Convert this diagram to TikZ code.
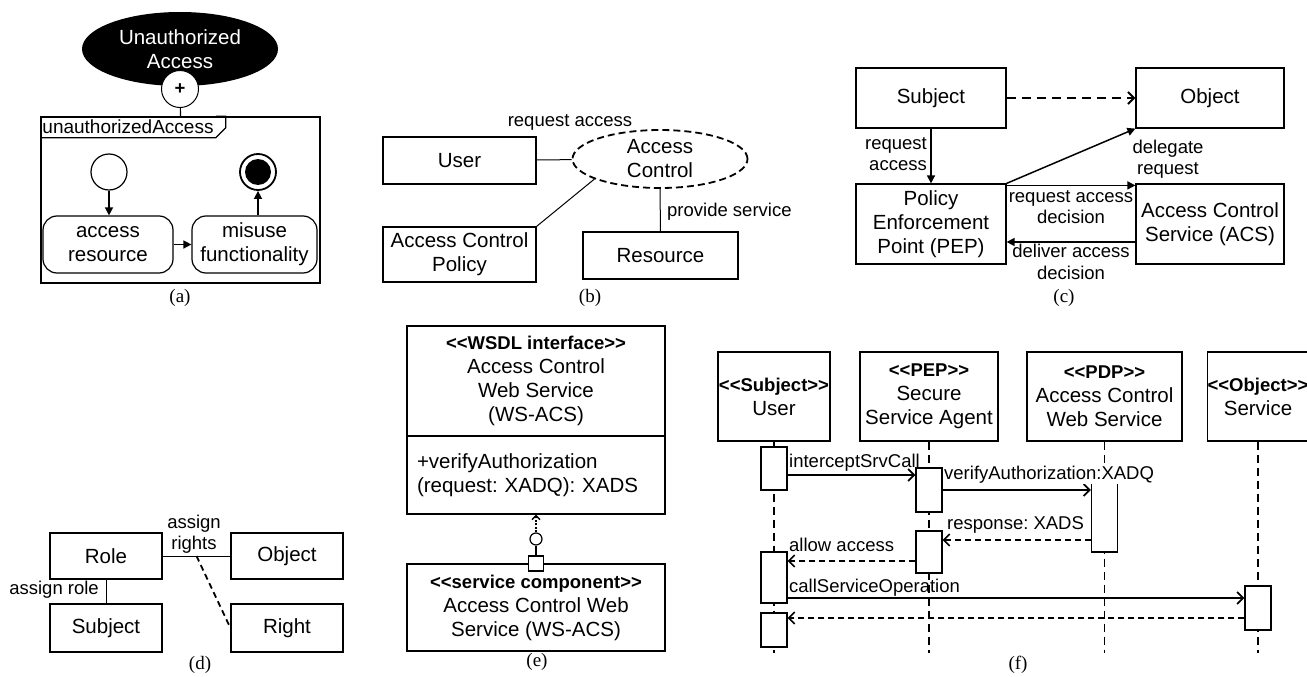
\documentclass[tikz,border=0pt]{standalone}
\usepackage{fontspec}
\setmainfont{Liberation Sans}
\newfontfamily\capfont{Liberation Serif}
\usetikzlibrary{shapes.geometric,arrows.meta}
\newcommand\bigtxt{\fontsize{20.5}{24}\selectfont}
\newcommand\smalltxt{\fontsize{18.5}{21.5}\selectfont}
\newcommand\stereo[1]{{\smalltxt\bfseries <\kern0pt<#1>\kern0pt>}}
\frenchspacing

\begin{document}
\begin{tikzpicture}[x=1pt, y=-1pt, font=\bigtxt,
    box/.style={draw, line width=1.2pt, align=center, inner sep=0pt},
    act/.style={draw, line width=1.2pt, fill=white, minimum width=26pt, inner sep=0pt},
    lbl/.style={font=\smalltxt, align=center, inner sep=0pt},
    subcap/.style={font=\capfont\fontsize{19}{22}\selectfont, inner sep=0pt},
    tri/.style={-{Triangle[length=8pt,width=8pt]}, line width=1.5pt},
    barb/.style={-{Straight Barb[length=6pt,width=12pt]}, line width=1.8pt},
    life/.style={line width=1.8pt, dash pattern=on 8pt off 5pt},
    ret/.style={barb, line width=1.6pt, dash pattern=on 6pt off 4pt}]
    \useasboundingbox (0,0) rectangle (1307,677);

    \node[ellipse, fill=black, text=white, align=center, minimum width=196pt, minimum height=74pt, inner sep=0pt] (goal) at (180,49) {Unauthorized\\Access};
    \node[circle, draw, fill=white, line width=1pt, minimum size=37pt, inner sep=0pt, font=\smalltxt\bfseries] (plus) at (180,89) {+};
    \node[draw, line width=1.5pt, minimum width=279pt, minimum height=166pt] (frame) at (180.5,200) {};
    \draw[line width=1.2pt] (plus) -- (frame.north);
    \node[anchor=north west, inner xsep=2pt, inner ysep=0pt, minimum height=21pt, font=\fontsize{19}{22}\selectfont] (flabel) at (frame.north west) {unauthorizedAccess};
    \draw[line width=1.2pt] (flabel.south west) -- (flabel.south east) -- ++(10,-10) |- (flabel.north east);
    \node[circle, draw, line width=1.2pt, minimum size=36pt] (init) at (109,172) {};
    \node[circle, draw, line width=1.8pt, minimum size=36pt] (final) at (258,172) {};
    \node[circle, fill=black, minimum size=26pt, inner sep=0pt] (finaldot) at (final) {};
    \node[box, rounded corners=14pt, minimum width=130pt, minimum height=57pt] (accres) at (108,244.5) {access\\resource};
    \node[box, rounded corners=14pt, minimum width=125pt, minimum height=57pt] (misuse) at (254.5,244.5) {misuse\\functionality};
    \draw[tri] (init) -- (init |- accres.north);
    \draw[tri] (accres) -- (misuse);
    \draw[tri] (misuse.north -| final) -- (final);
    \node[subcap] (capa) at (180,298) {(a)};

    \node[box, minimum width=153pt, minimum height=47pt] (user) at (459.5,160.5) {User};
    \node[ellipse, draw, line width=1.8pt, dash pattern=on 7pt off 4pt, align=center, minimum width=175pt, minimum height=58pt, inner sep=0pt] (ac) at (660,159) {Access\\Control};
    \node[box, minimum width=153pt, minimum height=55pt] (acp) at (459.5,254.5) {Access Control\\Policy};
    \node[box, minimum width=155pt, minimum height=47pt] (res) at (660.5,255.5) {Resource};
    \draw[line width=1pt] (user) -- (ac);
    \draw[line width=1pt] (acp.north east) -- (ac.197);
    \draw[line width=1pt] (ac.south) -- (res.north);
    \node[lbl] (lreqacc) at (570,122) {request access};
    \node[lbl, anchor=west] (lprov) at (667,212) {provide service};
    \node[subcap] (capb) at (590,298) {(b)};

    \node[box, minimum width=150pt, minimum height=60pt] (csubj) at (931,98) {Subject};
    \node[box, minimum width=148pt, minimum height=60pt] (cobj) at (1210,98) {Object};
    \node[box, minimum width=150pt, minimum height=80pt] (pep) at (931,224) {Policy\\Enforcement\\Point (PEP)};
    \node[box, minimum width=148pt, minimum height=80pt] (acs) at (1210,224) {Access Control\\Service (ACS)};
    \draw[tri] (csubj) -- (pep);
    \draw[barb, line width=2pt, dash pattern=on 9pt off 6pt] (csubj) -- (cobj);
    \draw[tri] (pep.north east) -- (cobj.south west);
    \draw[tri] ([yshift=-2pt]pep.north east) -- ([yshift=-2pt]acs.north west);
    \draw[tri] ([yshift=-18pt]acs.west) -- ([yshift=-18pt]pep.east);
    \node[lbl, anchor=east, align=right] (lreq) at (927,154) {request\\access};
    \node[lbl] (ldel) at (1168,159) {delegate\\request};
    \node[lbl] (lreqdec) at (1071,207) {request access\\decision};
    \node[lbl] (ldeldec) at (1071,262) {deliver access\\decision};
    \node[subcap] (capc) at (1064,298) {(c)};

    \node[box, minimum width=112pt, minimum height=46pt] (role) at (106,556) {Role};
    \node[box, minimum width=112pt, minimum height=46pt] (dobj) at (287,556) {Object};
    \node[box, minimum width=112pt, minimum height=48pt] (dsubj) at (106,628) {Subject};
    \node[box, minimum width=112pt, minimum height=48pt] (dright) at (287,628) {Right};
    \draw[line width=1pt] (role) -- coordinate[midway] (rmid) (dobj);
    \draw[line width=1.8pt, dash pattern=on 6pt off 4pt] (rmid) -- (dright.west);
    \draw[line width=1pt] (role) -- (dsubj);
    \node[lbl] (lrights) at (194,534) {assign\\rights};
    \node[lbl, anchor=east] (lrole) at (99,590) {assign role};
    \node[subcap] (capd) at (200,665) {(d)};

    \node[box, minimum width=258pt, minimum height=110pt] (wsdl) at (536,381) {\stereo{WSDL interface}\\Access Control\\Web Service\\(WS-ACS)};
    \node[box, minimum width=258pt, minimum height=78pt, align=left, text width=238pt] (ops) at (536,475) {+verifyAuthorization\\(request: XADQ): XADS};
    \node[box, minimum width=258pt, minimum height=87pt] (cmp) at (536,607.5) {\stereo{service component}\\Access Control Web\\Service (WS-ACS)};
    \node[draw, fill=white, line width=1.2pt, minimum size=15pt, inner sep=0pt] (port) at (cmp.north) {};
    \node[circle, draw, line width=1.2pt, minimum size=12pt, inner sep=0pt] (lolli) at (536,539) {};
    \draw[line width=1.2pt] (port) -- (lolli);
    \draw[-{Straight Barb[length=4pt,width=8pt]}, line width=1.5pt, dash pattern=on 2pt off 1.5pt] (lolli) -- (ops);
    \node[subcap] (cape) at (537,662) {(e)};

    \node[box, minimum width=112pt, minimum height=89pt] (fsubj) at (774,396.5) {\stereo{Subject}\\User};
    \node[box, minimum width=138pt, minimum height=89pt] (fpep) at (929,396.5) {\stereo{PEP}\\Secure\\Service Agent};
    \node[box, minimum width=155pt, minimum height=89pt] (fpdp) at (1104.5,396.5) {\stereo{PDP}\\Access Control\\Web Service};
    \node[box, minimum width=100pt, minimum height=89pt] (fobj) at (1258,396.5) {\stereo{Object}\\Service};
    \coordinate (lifeend) at (0,653);
    \foreach \h in {fsubj,fpep,fpdp,fobj}
        \draw[life] (\h.south) -- (\h.south |- lifeend);
    \node[act, minimum height=43pt] (ua1) at (774,468.5) {};
    \node[act, minimum height=44pt] (pa1) at (929,490) {};
    \node[act, minimum height=69pt] (da1) at (1104.5,517.5) {};
    \node[act, minimum height=42pt] (pa2) at (929,552) {};
    \node[act, minimum height=51pt] (ua2) at (774,577.5) {};
    \node[act, minimum height=44pt] (oa1) at (1258,608) {};
    \node[act, minimum height=34pt] (ua3) at (774,630) {};
    \draw[barb] (ua1.east |- 0,475) -- (pa1.west |- 0,475);
    \draw[barb] (pa1.east |- 0,490) -- (da1.west |- 0,490);
    \draw[ret] (da1.west |- 0,540) -- (pa2.east |- 0,540);
    \draw[ret] (pa2.west |- 0,561) -- (ua2.east |- 0,561);
    \draw[barb] (ua2.east |- 0,598) -- (oa1.west |- 0,598);
    \draw[ret] (oa1.west |- 0,618) -- (ua3.east |- 0,618);
    \node[lbl, anchor=west] (lintercept) at (789,463) {interceptSrvCall};
    \node[lbl, anchor=west, fill=white] (lverify) at (944,475) {verifyAuthorization:XADQ};
    \node[lbl, anchor=west] (lresp) at (947,525) {response: XADS};
    \node[lbl, anchor=west] (lallow) at (789,545) {allow access};
    \node[lbl, anchor=west] (lcall) at (789,588) {callServiceOperation};
    \node[subcap] (capf) at (1018,665) {(f)};
\end{tikzpicture}
\end{document}
